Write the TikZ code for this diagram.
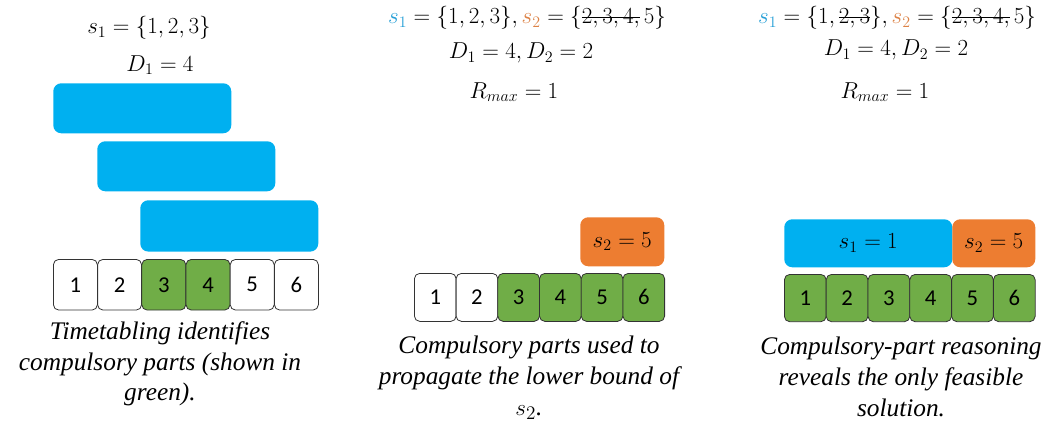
\documentclass[tikz,border=0pt]{standalone}
\usepackage{fontspec}
\setmainfont{Liberation Serif}
\newfontfamily\capfont{Liberation Serif}
\newfontfamily\cellfont{Carlito}
\usetikzlibrary{positioning}
\definecolor{barblue}{RGB}{0,176,240}
\definecolor{barorange}{RGB}{237,125,49}
\definecolor{cellgreen}{RGB}{112,173,71}
\definecolor{textblue}{RGB}{40,160,215}
\definecolor{textorange}{RGB}{220,130,70}
% strike a line through part of a formula
\newcommand{\crossout}[1]{\setbox0=\hbox{$#1$}\rlap{\raise0.6ex\hbox{\vrule width\wd0 height0.7pt depth0pt}}\box0}

\begin{document}
\begin{tikzpicture}[
        x=0.75pt, y=-0.75pt,
        mathlbl/.style={font=\fontsize{17}{20}\selectfont, inner sep=0pt},
        caption/.style={font=\capfont\itshape\fontsize{19}{23}\selectfont, align=center, inner sep=0pt},
        bar/.style={rectangle, rounded corners=6pt, fill=barblue, anchor=north west, inner sep=0pt, font=\fontsize{17}{20}\selectfont},
        orangebar/.style={bar, fill=barorange},
        cell/.style={rectangle, draw=black!80, rounded corners=4pt, anchor=north west, inner sep=0pt, line width=0.6pt, font=\cellfont\fontsize{17}{20}\selectfont}
    ]
        \useasboundingbox (0,0) rectangle (1055,424);

        % panel 1: timetabling
        \node (p1s) [mathlbl] at (149,28) {$s_1 = \{1, 2, 3\}$};
        \node (p1d) [mathlbl] at (160,65) {$D_1 = 4$};
        \node (bar1) [bar, minimum width=133.5pt, minimum height=37.5pt] at (53,83) {};
        \node (bar2) [bar, minimum width=133.5pt, minimum height=37.5pt] at (97,141) {};
        \node (bar3) [bar, minimum width=133.5pt, minimum height=38.5pt] at (140,200) {};
        \foreach \i/\f in {1/white, 2/white, 3/cellgreen, 4/cellgreen, 5/white, 6/white}
            \node (a\i) [cell, fill=\f, minimum width=33pt, minimum height=38pt] at ({53+(\i-1)*44.2},259) {\i};
        \node (cap1) [caption] at (160,364) {Timetabling identifies\\compulsory parts (shown in\\green).};

        % panel 2: propagation
        \node (p2s) [mathlbl] at (527,18) {$\textcolor{textblue}{s_1} = \{1, 2, 3\}, \textcolor{textorange}{s_2} = \{\crossout{2, 3, 4,}\, 5\}$};
        \node (p2d) [mathlbl] at (521,53) {$D_1 = 4, D_2 = 2$};
        \node (p2r) [mathlbl] at (514,92) {$R_{max} = 1$};
        \node (s2a) [orangebar, minimum width=63pt, minimum height=36.75pt] at (580,217) {$s_2 = 5$};
        \foreach \i/\f in {1/white, 2/white, 3/cellgreen, 4/cellgreen, 5/cellgreen, 6/cellgreen}
            \node (b\i) [cell, fill=\f, minimum width=31.3pt, minimum height=36pt] at ({414+(\i-1)*41.7},273) {\i};
        \node (cap2) [caption] at (529,378) {Compulsory parts used to\\propagate the lower bound of\\$s_2$.};

        % panel 3: the only solution
        \node (p3s) [mathlbl] at (897,18) {$\textcolor{textblue}{s_1} = \{1, \crossout{2, 3}\}, \textcolor{textorange}{s_2} = \{\crossout{2, 3, 4,}\, 5\}$};
        \node (p3d) [mathlbl] at (896,50) {$D_1 = 4, D_2 = 2$};
        \node (p3r) [mathlbl] at (885,92) {$R_{max} = 1$};
        \node (s1b) [bar, minimum width=126pt, minimum height=36pt] at (784,219) {$s_1 = 1$};
        \node (s2b) [orangebar, minimum width=62.25pt, minimum height=36pt] at (952,219) {$s_2 = 5$};
        \foreach \i in {1,...,6}
            \node (c\i) [cell, fill=cellgreen, minimum width=31.3pt, minimum height=35.5pt] at ({784+(\i-1)*41.8},274) {\i};
        \node (cap3) [caption] at (901,377) {Compulsory-part reasoning\\reveals the only feasible\\solution.};
    \end{tikzpicture}
\end{document}
